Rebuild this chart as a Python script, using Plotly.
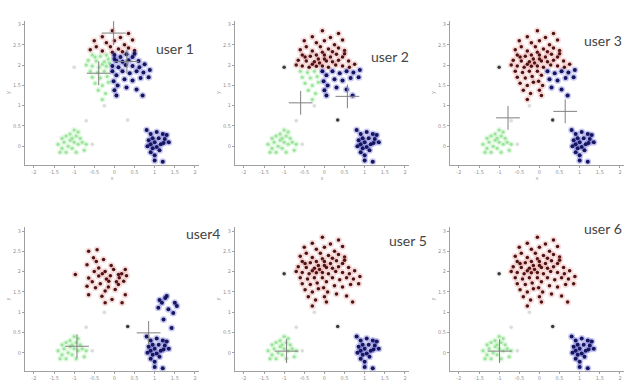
import plotly.graph_objects as go

# ---------------- data (data units) ----------------
# upper cluster split into regions (same points, recoloured per user)
GA_X = [-0.05, 0.35, -0.3, 0.15, -0.5, 0.0, 0.45, -0.2, 0.25, -0.45, -0.1, 0.1, 0.35, -0.6, -0.3, 0.2, -0.05, 0.5]
GA_Y = [2.85, 2.78, 2.7, 2.68, 2.6, 2.6, 2.62, 2.55, 2.5, 2.45, 2.45, 2.4, 2.42, 2.38, 2.35, 2.33, 2.32, 2.36]
GB_X = [-0.55, -0.35, -0.2, -0.65, -0.45, -0.25, -0.15, -0.55, -0.38, -0.2, -0.3, -0.12, -0.7, -0.48]
GB_Y = [2.25, 2.22, 2.25, 2.12, 2.1, 2.08, 2.15, 1.98, 1.95, 1.97, 2.02, 2.05, 2.0, 2.2]
GC_X = [0.0, 0.15, 0.3, 0.45, 0.05, 0.2, 0.35, 0.6, -0.05, 0.1, 0.28, 0.45, 0.62, 0.75, 0.0, 0.5]
GC_Y = [2.25, 2.2, 2.27, 2.2, 2.1, 2.08, 2.12, 2.1, 1.98, 1.95, 2.0, 1.98, 1.95, 2.02, 2.15, 2.28]
GD_X = [-0.6, -0.42, -0.25, -0.55, -0.35, -0.18, -0.48, -0.3, -0.15, -0.4, -0.22, -0.3]
GD_Y = [1.85, 1.82, 1.85, 1.7, 1.68, 1.72, 1.55, 1.5, 1.58, 1.38, 1.3, 1.15]
GE_X = [-0.05, 0.05, -0.02, 0.08, 0.0, 0.05]
GE_Y = [1.85, 1.75, 1.6, 1.5, 1.38, 1.25]
GF_X = [0.2, 0.38, 0.55, 0.72, 0.88, 0.25, 0.45, 0.65, 0.85, 0.3, 0.55, 0.7]
GF_Y = [1.85, 1.8, 1.85, 1.82, 1.88, 1.65, 1.62, 1.68, 1.7, 1.45, 1.4, 1.25]

# lower clusters (shared by all users)
LOW_GREEN_X = [-1.4, -1.3, -1.25, -1.2, -1.15, -1.1, -1.05, -1.0, -0.95, -0.9, -0.85, -1.0, -0.9,
               -1.1, -1.3, -1.2, -0.8, -0.75, -1.35, -1.05, -0.95, -0.7]
LOW_GREEN_Y = [0.05, -0.05, 0.1, -0.15, 0.0, 0.15, -0.05, 0.1, 0.25, 0.05, 0.2, 0.4, 0.35,
               0.3, 0.2, 0.25, 0.1, -0.1, -0.15, 0.2, -0.15, 0.05]
LOW_BLUE_X = [0.8, 0.9, 1.05, 1.2, 0.85, 0.95, 1.1, 1.25, 1.3, 0.9, 1.0, 1.15, 1.22, 0.95, 1.05,
              1.12, 0.9, 1.0, 1.0, 1.2, 0.82, 1.35]
LOW_BLUE_Y = [0.4, 0.3, 0.35, 0.3, 0.15, 0.2, 0.2, 0.18, 0.28, 0.05, 0.1, 0.05, 0.08, -0.05, -0.02,
              -0.1, -0.15, -0.22, -0.35, -0.38, 0.0, 0.1]

# stray points
OUTLIER_X = [-1.0]
OUTLIER_Y = [1.95]
DARK_STRAY_X = [0.33]
DARK_STRAY_Y = [0.65]
FAINT_X = [-0.7, -0.55, -0.25]
FAINT_Y = [0.63, 0.05, 1.0]

# user 4 has its own upper cluster and an extra blue group
U4_RED_X = [-0.64, -0.43, -0.52, -0.68, -0.39, -0.23, -0.02, 0.27, 0.1, -0.64, -0.39, -0.14, 0.1, 0.23,
            -0.68, -0.47, -0.23, 0.02, 0.27, -0.64, -0.31, -0.06, -0.23, 0.19, -0.3, -0.1, 0.12,
            -0.5, -0.2, 0.05, -0.35, -0.15, 0.18, -0.55, -0.08, 0.3, -0.45, -0.27, -0.97]
U4_RED_Y = [2.5, 2.54, 2.34, 2.17, 2.09, 2.0, 2.05, 2.05, 1.93, 1.84, 1.89, 1.76, 1.68, 1.76,
            1.64, 1.6, 1.52, 1.56, 1.43, 1.43, 1.39, 1.31, 1.23, 1.23, 1.95, 1.9, 1.85,
            2.0, 1.82, 1.75, 1.7, 1.62, 1.95, 1.75, 2.15, 1.9, 2.25, 2.3, 1.93]
U4_BLUE_X = [1.26, 1.18, 1.5, 1.09, 1.34, 1.46, 1.22, 1.42, 1.3, 1.12, 1.55]
U4_BLUE_Y = [1.35, 1.23, 1.23, 1.11, 1.07, 0.98, 0.82, 0.61, 1.4, 1.3, 1.15]

# centroid crosses per user
CROSS_X = {1: [-0.02, -0.39, 0.31], 2: [-0.59, 0.57], 3: [-0.78, 0.64],
           4: [-0.93, 0.85], 5: [-0.94], 6: [-0.99]}
CROSS_Y = {1: [2.79, 1.8, 2.09], 2: [1.07, 1.23], 3: [0.7, 0.86],
           4: [0.16, 0.49], 5: [0.04], 6: [0.04]}

USER_LABELS = ["user 1", "user 2", "user 3", "user4", "user 5", "user 6"]
X_TICKS = [-2, -1.5, -1, -0.5, 0, 0.5, 1, 1.5, 2]
Y_TICKS = [0, 0.5, 1, 1.5, 2, 2.5, 3]

# group colours for the shared upper cluster, per user
GROUP_COLOURS = {
    1: ["r", "g", "b", "g", "b", "b"],
    2: ["r", "r", "r", "g", "b", "b"],
    3: ["r", "r", "r", "r", "r", "b"],
    5: ["r", "r", "r", "r", "r", "r"],
    6: ["r", "r", "r", "r", "r", "r"],
}
GROUPS = [(GA_X, GA_Y), (GB_X, GB_Y), (GC_X, GC_Y), (GD_X, GD_Y), (GE_X, GE_Y), (GF_X, GF_Y)]

# ---------------- layout geometry (page pixels) ----------------
W, H = 628, 383
XR = [-2.22, 2.1]
YR = [-0.45, 3.1]
col_left = [25, 235, 450]
col_w = 174
row_bottom = [164.5, 371]
row_h = 144


def px_x(p):
    return p / W


def px_y(p):
    return 1 - p / H


STYLE = {
    "r": dict(core="#4e1414", halo="rgba(215,80,80,0.20)", cs=3.5, hs=7),
    "b": dict(core="#151560", halo="rgba(40,40,200,0.25)", cs=4, hs=7),
    "g": dict(core="#9be39b", halo="rgba(160,235,160,0.30)", cs=3, hs=6),
    "k": dict(core="#3a3a3a", halo="rgba(120,120,120,0.12)", cs=3.5, hs=6),
    "f": dict(core="#dcdcdc", halo="rgba(225,225,225,0.2)", cs=3.5, hs=5),
}

fig = go.Figure()


def add_pts(idx, xs, ys, kind):
    st = STYLE[kind]
    ax = "" if idx == 1 else str(idx)
    for size, col in ((st["hs"], st["halo"]), (st["cs"], st["core"])):
        fig.add_trace(go.Scatter(x=xs, y=ys, mode="markers", xaxis="x" + ax, yaxis="y" + ax,
                                 marker=dict(size=size, color=col, line=dict(width=0)),
                                 showlegend=False, hoverinfo="skip"))


layout = dict(width=W, height=H, margin=dict(l=0, r=0, t=0, b=0),
              paper_bgcolor="white", plot_bgcolor="white", annotations=[])

for i in range(6):
    idx = i + 1
    r, c = divmod(i, 3)
    x0 = px_x(col_left[c])
    x1 = min(1.0, px_x(col_left[c] + col_w))
    yb = px_y(row_bottom[r])
    yt = px_y(row_bottom[r] - row_h)
    ax = "" if idx == 1 else str(idx)
    common = dict(showgrid=False, zeroline=False, showline=True, linecolor="#a0a0a0", linewidth=1,
                  ticks="outside", ticklen=2, tickcolor="#a0a0a0",
                  tickfont=dict(size=5, color="#909090", family="DejaVu Sans"))
    xtitle = dict(text="x", font=dict(size=5, color="#909090"), standoff=2) if r == 0 else None
    layout["xaxis" + ax] = dict(domain=[x0, x1], range=XR, anchor="y" + ax,
                                tickvals=X_TICKS, ticktext=[str(t) for t in X_TICKS],
                                title=xtitle, **common)
    layout["yaxis" + ax] = dict(domain=[yb, yt], range=YR, anchor="x" + ax,
                                tickvals=Y_TICKS, ticktext=[str(t) for t in Y_TICKS],
                                title=dict(text="y", font=dict(size=5, color="#909090"), standoff=2),
                                **common)

    add_pts(idx, FAINT_X, FAINT_Y, "f")
    add_pts(idx, LOW_GREEN_X, LOW_GREEN_Y, "g")
    add_pts(idx, LOW_BLUE_X, LOW_BLUE_Y, "b")
    if idx == 4:
        add_pts(idx, U4_RED_X, U4_RED_Y, "r")
        add_pts(idx, U4_BLUE_X, U4_BLUE_Y, "b")
    else:
        for (gx, gy), k in zip(GROUPS, GROUP_COLOURS[idx]):
            add_pts(idx, gx, gy, k)
        add_pts(idx, OUTLIER_X, OUTLIER_Y, "f" if idx == 1 else "k")
    add_pts(idx, DARK_STRAY_X, DARK_STRAY_Y, "f" if idx == 1 else "k")

    fig.add_trace(go.Scatter(x=CROSS_X[idx], y=CROSS_Y[idx], mode="markers",
                             xaxis="x" + ax, yaxis="y" + ax,
                             marker=dict(symbol="cross-thin", size=17, color="#808080",
                                         line=dict(width=1, color="#808080")),
                             showlegend=False, hoverinfo="skip"))

LABEL_POS = [(175, 49), (390, 57), (624, 41), (203, 233), (408, 240), (624, 228)]
ANCHORS = ["center", "center", "right", "center", "center", "right"]
for txt, (px, py), anc in zip(USER_LABELS, LABEL_POS, ANCHORS):
    layout["annotations"].append(dict(text=txt, x=px_x(px), y=px_y(py), xref="paper", yref="paper",
                                      showarrow=False, xanchor=anc, yanchor="middle",
                                      font=dict(size=14, color="#444444", family="Lato")))

fig.update_layout(**layout)
# remove the browser's default page margin so the figure fills the window exactly
fig.write_html("out.html", config={"displayModeBar": False},
               post_script="document.body.style.margin='0';document.body.style.overflow='hidden';")
